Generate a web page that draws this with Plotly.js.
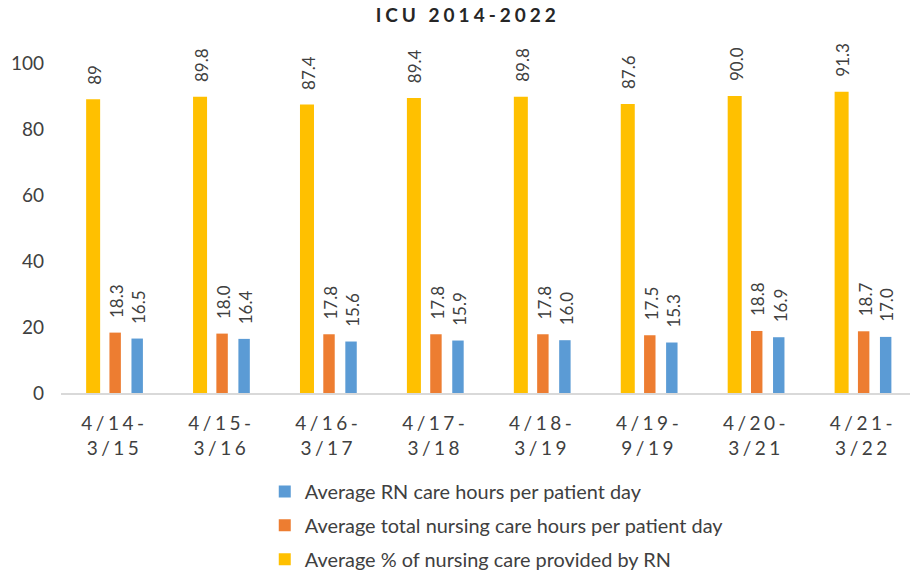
<!DOCTYPE html>
<html>
<head>
<meta charset="utf-8">
<script src="https://cdn.plot.ly/plotly-3.0.1.min.js"></script>
<style>
  html, body { margin: 0; padding: 0; background: #fff; }
  #chart { width: 910px; height: 577px; }
  .xtick text { letter-spacing: 3.5px; }
  .gtitle { letter-spacing: 4px; }
</style>
</head>
<body>
<div id="chart"></div>
<script>
// ---- data ----
const periods = ["4/14-<br>3/15", "4/15-<br>3/16", "4/16-<br>3/17", "4/17-<br>3/18",
                 "4/18-<br>3/19", "4/19-<br>9/19", "4/20-<br>3/21", "4/21-<br>3/22"];
const pctRN = [89, 89.8, 87.4, 89.4, 89.8, 87.6, 90.0, 91.3];
const pctRNLabels = ["89", "89.8", "87.4", "89.4", "89.8", "87.6", "90.0", "91.3"];
const totalHours = [18.3, 18.0, 17.8, 17.8, 17.8, 17.5, 18.8, 18.7];
const totalHoursLabels = ["18.3", "18.0", "17.8", "17.8", "17.8", "17.5", "18.8", "18.7"];
const rnHours = [16.5, 16.4, 15.6, 15.9, 16.0, 15.3, 16.9, 17.0];
const rnHoursLabels = ["16.5", "16.4", "15.6", "15.9", "16.0", "15.3", "16.9", "17.0"];
const seriesNames = ["Average % of nursing care provided by RN",
                     "Average total nursing care hours per patient day",
                     "Average RN care hours per patient day"];
const chartTitle = "ICU 2014-2022";

// ---- styles ----
const FONT = "Lato, 'Open Sans', sans-serif";
const styles = [
  {color: "#FFC000", width: 0.131, offset: -0.265, shift: -20, rank: 3},
  {color: "#ED7D31", width: 0.107, offset: -0.047, shift: 2, rank: 2},
  {color: "#5B9BD5", width: 0.107, offset: 0.159, shift: 24, rank: 1}
];
const values = [pctRN, totalHours, rnHours];
const labels = [pctRNLabels, totalHoursLabels, rnHoursLabels];

const traces = values.map((v, i) => ({
  type: "bar",
  x: periods,
  y: v,
  name: seriesNames[i],
  marker: {color: styles[i].color},
  width: styles[i].width,
  offset: styles[i].offset,
  legendrank: styles[i].rank,
  legendgroup: "g" + i,
  hoverinfo: "none"
}));

const annotations = [];
values.forEach((v, i) => {
  v.forEach((val, j) => {
    annotations.push({
      x: periods[j], y: val, xref: "x", yref: "y",
      text: labels[i][j], showarrow: false, textangle: -90,
      xanchor: "center", yanchor: "bottom",
      xshift: styles[i].shift, yshift: 13,
      font: {family: FONT, size: 17, color: "#404040"}
    });
  });
});

const layout = {
  width: 910, height: 577,
  margin: {l: 61, r: 0, t: 63, b: 184},
  paper_bgcolor: "#fff", plot_bgcolor: "#fff",
  title: {text: "<b>" + chartTitle + "</b>", x: 0.514, xanchor: "center", xref: "container",
          y: 0.974, yanchor: "middle", yref: "container",
          font: {family: FONT, size: 19, color: "#262626"}},
  barmode: "group",
  showlegend: true,
  legend: {orientation: "v", x: 0.240, xanchor: "left", xref: "paper",
           y: 0.182, yanchor: "top", yref: "container",
           traceorder: "grouped", tracegroupgap: 5,
           font: {family: FONT, size: 19.9, color: "#404040"}},
  xaxis: {type: "category", range: [-0.5, 7.44], showgrid: false, zeroline: false,
          showline: true, linecolor: "#d9d9d9", linewidth: 2, ticks: "",
          ticklabelstandoff: 12, automargin: false,
          tickfont: {family: FONT, size: 19, color: "#404040"}, fixedrange: true},
  yaxis: {range: [0, 100], dtick: 20, showgrid: false, zeroline: false, showline: false,
          ticks: "", ticklabelstandoff: 16, automargin: false,
          tickfont: {family: FONT, size: 19, color: "#404040"}, fixedrange: true},
  annotations: annotations
};

Plotly.newPlot("chart", traces, layout, {displayModeBar: false, staticPlot: true});
</script>
</body>
</html>
